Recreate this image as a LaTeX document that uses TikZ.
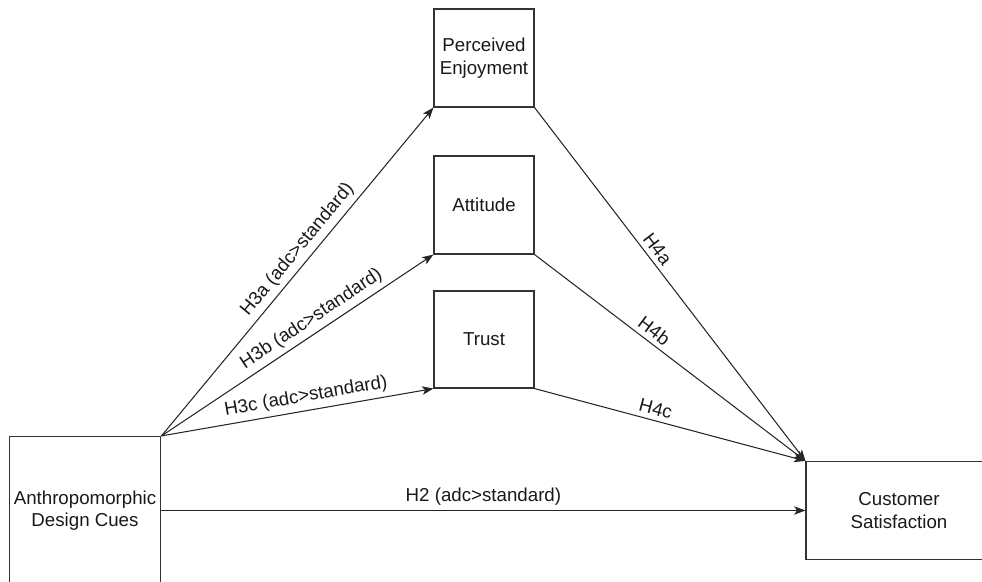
\documentclass[tikz,border=0pt]{standalone}
\usepackage{fontspec}
\setmainfont{Liberation Sans}
\usetikzlibrary{arrows.meta}

\begin{document}
\begin{tikzpicture}[x=0.025cm, y=0.025cm,
    font=\fontsize{13.3}{16}\selectfont,
    box/.style={draw=black!80, line width=0.8pt, align=center, text=black!90},
    link/.style={draw=black!85, line width=0.75pt, -{Stealth[length=8pt, width=6pt, inset=2pt]}},
    hyp/.style={sloped, above, text=black!90}]
    \useasboundingbox (0,0) rectangle (982,581);
    \clip (0,0) rectangle (982,581);

    % 自变量与因变量
    \node[box, minimum width=3.75cm, minimum height=3.7cm] (adc) at (85,70.5) {Anthropomorphic\\Design Cues};
    \node[box, minimum width=4.65cm, minimum height=2.45cm] (cs) at (899,70.5) {Customer\\Satisfaction};

    % 中介变量
    \node[box, minimum width=2.5cm, minimum height=2.45cm] (pe) at (484,523) {Perceived\\Enjoyment};
    \node[box, minimum width=2.5cm, minimum height=2.45cm] (att) at (484,376) {Attitude};
    \node[box, minimum width=2.5cm, minimum height=2.425cm] (trust) at (484,241.5) {Trust};

    % 中介路径
    \foreach \m/\h/\p/\q in {pe/a/0.54/0.42, att/b/0.58/0.415, trust/c/0.54/0.436} {
        \draw[link] (adc.north east) -- node[hyp, pos=\p] {H3\h\ (adc>standard)} (\m.south west);
        \draw[link] (\m.south east) -- node[hyp, pos=\q] {H4\h} (cs.north west);
    }

    % 直接路径
    \draw[link] (adc) -- node[above, text=black!90] {H2 (adc>standard)} (cs);
\end{tikzpicture}
\end{document}
